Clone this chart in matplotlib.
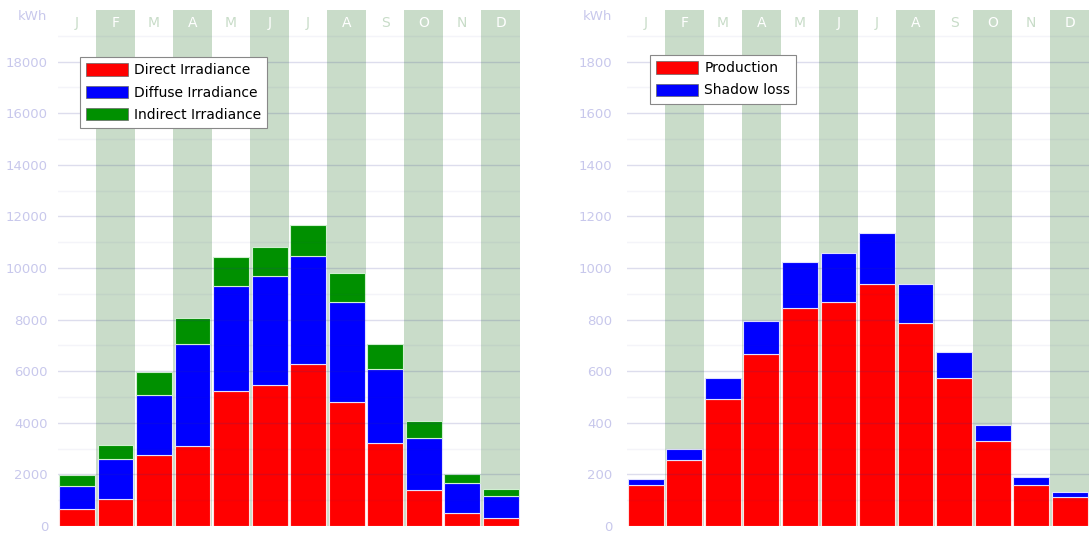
import matplotlib.pyplot as plt
import numpy as np

# Data
months = ['J', 'F', 'M', 'A', 'M', 'J', 'J', 'A', 'S', 'O', 'N', 'D']

direct = [660, 1040, 2760, 3110, 5250, 5480, 6290, 4800, 3230, 1400, 500, 300]
diffuse_top = [1560, 2590, 5060, 7050, 9310, 9700, 10460, 8700, 6100, 3410, 1650, 1160]
indirect_top = [1980, 3150, 5980, 8070, 10440, 10820, 11650, 9820, 7060, 4060, 2000, 1420]

production = [159, 257, 494, 667, 846, 870, 939, 787, 572, 329, 159, 111]
total_prod = [184, 300, 575, 796, 1022, 1059, 1135, 939, 673, 391, 191, 133]

diffuse = np.array(diffuse_top) - np.array(direct)
indirect = np.array(indirect_top) - np.array(diffuse_top)
shadow = np.array(total_prod) - np.array(production)

RED = '#ff0000'
BLUE = '#0000ff'
GREEN = '#009000'
SHADE = '#c9dcc9'
TICK_COLOR = '#c8c8ec'

fig = plt.figure(figsize=(10.9, 5.36), dpi=100)
ax1 = fig.add_axes([57.75 / 1090, 10 / 536, 462.25 / 1090, 516 / 536])
ax2 = fig.add_axes([626.5 / 1090, 10 / 536, 462.5 / 1090, 516 / 536])

x = np.arange(len(months))


def setup(ax, ymax, step, pad):
    ax.set_xlim(-0.5, 11.5)
    ax.set_ylim(0, ymax)
    for i in range(len(months)):
        if i % 2 == 1:
            ax.axvspan(i - 0.5, i + 0.5, color=SHADE, lw=0, zorder=0)
            col = 'white'
        else:
            col = '#c8dcc8'
        ax.text(i, ymax * 0.975, months[i], ha='center', va='center',
                color=col, fontsize=10, zorder=5)
    for v in np.arange(step, ymax, step):
        ax.axhline(v, color='#303090', alpha=0.16, lw=1, zorder=4)
    for v in np.arange(step / 2, ymax, step):
        ax.axhline(v, color='#303090', alpha=0.05, lw=1, zorder=4)
    ax.set_yticks(np.arange(0, ymax, step))
    ax.tick_params(axis='y', length=0, pad=pad, labelcolor=TICK_COLOR, labelsize=9.5)
    ax.set_xticks([])
    for s in ax.spines.values():
        s.set_visible(False)
    ax.text(-0.5, ymax * 0.987, 'kWh', transform=ax.transData, ha='right', va='center',
            color=TICK_COLOR, fontsize=9.5)


setup(ax1, 20000, 2000, 7)
setup(ax2, 2000, 200, 10)
ax1.texts[-1].set_position((-0.5 - 0.27, 19750))
ax2.texts[-1].set_position((-0.5 - 0.37, 1975))

w = 0.93
ax1.bar(x, direct, w, color=RED, edgecolor='#ffe0e0', lw=0.8, zorder=2, label='Direct Irradiance')
ax1.bar(x, diffuse, w, bottom=direct, color=BLUE, edgecolor='#e0e0ff', lw=0.8, zorder=2,
        label='Diffuse Irradiance')
ax1.bar(x, indirect, w, bottom=diffuse_top, color=GREEN, edgecolor='#d0f0d0', lw=0.8, zorder=2,
        label='Indirect Irradiance')

ax2.bar(x, production, w, color=RED, edgecolor='#ffe0e0', lw=0.8, zorder=2, label='Production')
ax2.bar(x, shadow, w, bottom=production, color=BLUE, edgecolor='#e0e0ff', lw=0.8, zorder=2,
        label='Shadow loss')

for ax, anchor in [(ax1, (0.048, 0.909)), (ax2, (0.051, 0.913))]:
    leg = ax.legend(loc='upper left', bbox_to_anchor=anchor, borderaxespad=0,
                    fancybox=False, framealpha=1, edgecolor='#888888', fontsize=10,
                    handlelength=3.0, handleheight=1.0, handletextpad=0.45,
                    labelspacing=0.6, borderpad=0.45)
    leg.get_frame().set_linewidth(0.8)
    leg.set_zorder(10)
    for h in leg.legend_handles:
        h.set_edgecolor('#666666')
        h.set_linewidth(0.5)

plt.savefig('out.png', dpi=100)
